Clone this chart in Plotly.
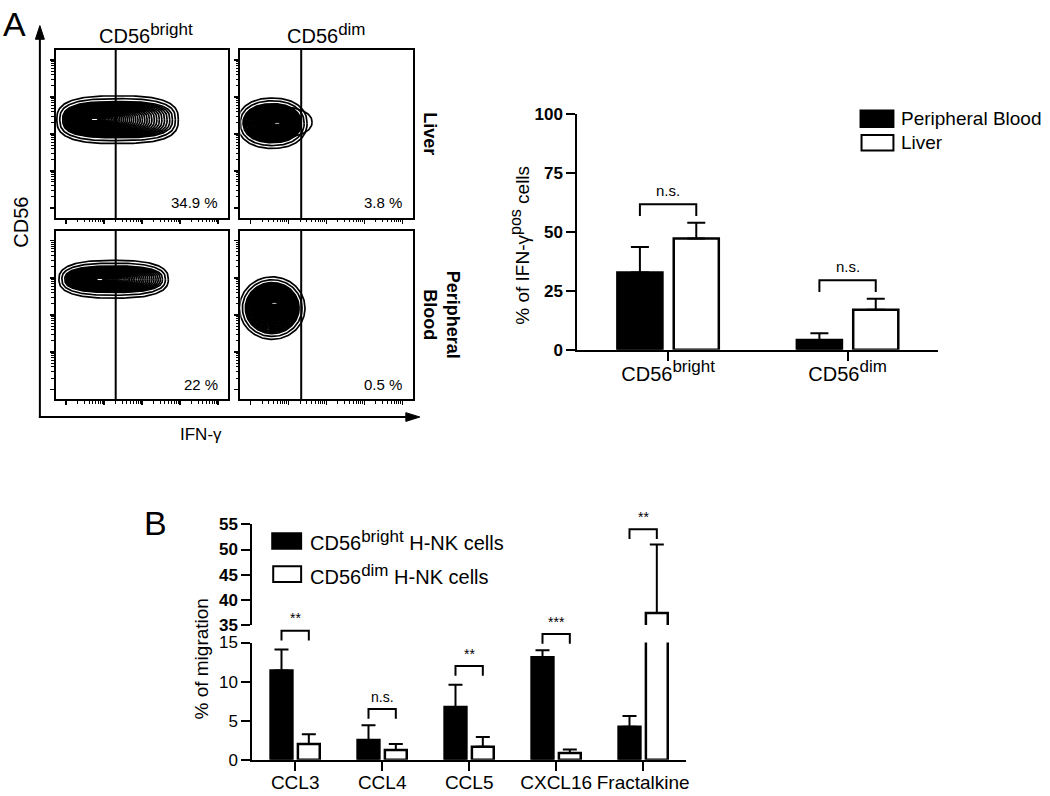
import numpy as np
import plotly.graph_objects as go

W, H = 1050, 796
FONT = "Liberation Sans, Arial, Helvetica, sans-serif"


def sup(base, s, px):
    return f'{base}<sup><span style="font-size:{px}px">{s}</span></sup>'


# ---------------- data ----------------
# Panel A, flow cytometry contour plots (order: TL, TR, BL, BR)
flow_col_titles = [("CD56", "bright"), ("CD56", "dim")]
flow_row_titles = ["Liver", "Peripheral<br>Blood"]
flow_pct = ["34.9 %", "3.8 %", "22 %", "0.5 %"]
flow_gate = [0.347, 0.353, 0.347, 0.353]
blob_cx = [0.358, 0.185, 0.335, 0.185]
blob_cy = [0.585, 0.564, 0.712, 0.541]
blob_rx = [0.318, 0.168, 0.283, 0.156]
blob_ry = [0.108, 0.116, 0.078, 0.151]
mode_cx = [0.225, 0.214, 0.254, 0.197]
mode_cy = [0.587, 0.564, 0.709, 0.570]
blob_n = [2.8, 2.2, 2.6, 2.0]
extra_ring = [None, (0.2165, 0.570, 0.1995, 0.093), None, None]

# Panel A, IFN-gamma bar chart
ifn_groups = [("CD56", "bright"), ("CD56", "dim")]
pb_mean = [32.8, 4.1]
pb_err = [10.8, 2.9]
liver_mean = [47.3, 17.0]
liver_err = [6.7, 4.6]
sigA_text = ["n.s.", "n.s."]
sigA_top = [61.8, 29.5]

# Panel B, migration bar chart
chemokines = ["CCL3", "CCL4", "CCL5", "CXCL16", "Fractalkine"]
bright_mean = [11.4, 2.5, 6.75, 13.1, 4.2]
bright_err = [2.7, 1.9, 2.85, 0.9, 1.4]
dim_mean = [2.0, 1.25, 1.65, 0.85, 37.4]
dim_err = [1.25, 0.75, 1.25, 0.45, 13.6]
sigB_text = ["**", "n.s.", "**", "***", "**"]
sigB_top = [16.5, 6.5, 12.0, 16.1, 29.5]   # in lower-segment units


def fx(px):
    return px / W


def fy(py):
    return 1 - py / H


def label(fig, px, py, text, size, xanchor="center", yanchor="middle", angle=0):
    fig.add_annotation(x=fx(px), y=fy(py), xref="paper", yref="paper", text=text,
                       showarrow=False, xanchor=xanchor, yanchor=yanchor,
                       textangle=angle, font=dict(size=size))


BARGAP, GROUPGAP = 0.372, 0.2
half_off = (1 - BARGAP) / 4.0   # centre offset of each bar in a 2-bar group

fig = go.Figure()
layout = {}
shapes = []

# ---------------- flow panels ----------------
flow_box = [(56, 229, 42, 214), (241, 414, 42, 214),
            (56, 229, 227, 400), (241, 414, 227, 400)]
decades = [0.06 + 0.22 * d for d in range(5)]
minor_t = [p + 0.22 * np.log10(m) for p in decades for m in range(2, 10)
           if p + 0.22 * np.log10(m) < 1]


def superellipse(cx, cy, rx, ry, n, m=160):
    t = np.linspace(0, 2 * np.pi, m)
    c, s = np.cos(t), np.sin(t)
    return (cx + rx * np.sign(c) * np.abs(c) ** (2 / n),
            cy + ry * np.sign(s) * np.abs(s) ** (2 / n))


for i, (l, r, t, b) in enumerate(flow_box):
    k = i + 1
    xa, ya = f"x{k}", f"y{k}"
    axcommon = dict(range=[0, 1], showline=True, mirror=True, linecolor="black",
                    linewidth=2, ticks="outside", tickvals=decades, ticklen=4,
                    tickwidth=1.5, tickcolor="black",
                    minor=dict(tickvals=minor_t, ticklen=2.5, tickwidth=1,
                               ticks="outside", tickcolor="black"),
                    showticklabels=False, showgrid=False, zeroline=False,
                    fixedrange=True)
    layout[f"xaxis{k}"] = dict(domain=[fx(l), fx(r)], anchor=ya, **axcommon)
    layout[f"yaxis{k}"] = dict(domain=[fy(b), fy(t)], anchor=xa, **axcommon)

    rings = []
    if extra_ring[i] is not None:
        rings.append(extra_ring[i] + (blob_n[i],))
    for h in (0.034, 0.017):   # loose outer contours
        rings.append((blob_cx[i], blob_cy[i], blob_rx[i] + h, blob_ry[i] + h,
                      blob_n[i]))
    N = 42
    for s in np.linspace(0, 1, N):
        tt = 1 - (1 - s) ** 1.5
        cx = blob_cx[i] + (mode_cx[i] - blob_cx[i]) * tt
        cy = blob_cy[i] + (mode_cy[i] - blob_cy[i]) * tt
        rx = blob_rx[i] + (0.022 - blob_rx[i]) * tt
        ry = blob_ry[i] + (0.010 - blob_ry[i]) * tt
        rings.append((cx, cy, rx, ry, blob_n[i]))
    xs, ys = [], []
    for (cx, cy, rx, ry, n) in rings:
        x, y = superellipse(cx, cy, rx, ry, n)
        xs += list(x) + [None]
        ys += list(y) + [None]
    fig.add_trace(go.Scatter(x=xs, y=ys, xaxis=xa, yaxis=ya, mode="lines",
                             line=dict(color="black", width=1.7),
                             showlegend=False, hoverinfo="skip"))
    fig.add_trace(go.Scatter(x=[flow_gate[i], flow_gate[i]], y=[0, 1], xaxis=xa,
                             yaxis=ya, mode="lines",
                             line=dict(color="black", width=2),
                             showlegend=False, hoverinfo="skip"))
    fig.add_annotation(x=0.95, y=0.09, xref=xa, yref=ya, text=flow_pct[i],
                       showarrow=False, xanchor="right", yanchor="middle",
                       font=dict(size=15))

for j, (base, s) in enumerate(flow_col_titles):
    label(fig, [146, 327][j], 25, sup(base, s, 17), 20)
label(fig, 431, 128, "<b>" + flow_row_titles[0] + "</b>", 18, angle=90)
label(fig, 443, 313, "<b>" + flow_row_titles[1] + "</b>", 18, angle=90)
label(fig, 21, 218, "CD56", 20, angle=-90)
label(fig, 202, 436, "IFN-γ", 17)
label(fig, 1, 15, "A", 34, xanchor="left")

# big L-shaped axes with arrowheads
line_k = dict(color="black", width=2)
shapes.append(dict(type="line", xref="paper", yref="paper", x0=fx(40), x1=fx(40),
                   y0=fy(419), y1=fy(28), line=line_k))
shapes.append(dict(type="line", xref="paper", yref="paper", x0=fx(39), x1=fx(410),
                   y0=fy(418), y1=fy(418), line=line_k))
shapes.append(dict(type="path", xref="paper", yref="paper",
                   path=(f"M {fx(40)},{fy(17)} L {fx(35.5)},{fy(31)} "
                         f"L {fx(44.5)},{fy(31)} Z"),
                   fillcolor="black", line=dict(color="black", width=1)))
shapes.append(dict(type="path", xref="paper", yref="paper",
                   path=(f"M {fx(421)},{fy(418)} L {fx(407)},{fy(413.5)} "
                         f"L {fx(407)},{fy(422.5)} Z"),
                   fillcolor="black", line=dict(color="black", width=1)))

# ---------------- panel A bar chart ----------------
idxA = list(range(len(ifn_groups)))
bar_line = dict(color="black", width=2.5)
fig.add_trace(go.Bar(x=idxA, y=pb_mean, xaxis="x5", yaxis="y5",
                     marker=dict(color="black", line=bar_line),
                     error_y=dict(type="data", symmetric=False, array=pb_err,
                                  arrayminus=[0] * len(pb_err), color="black",
                                  thickness=2, width=9),
                     showlegend=False))
fig.add_trace(go.Bar(x=idxA, y=liver_mean, xaxis="x5", yaxis="y5",
                     marker=dict(color="white", line=bar_line),
                     error_y=dict(type="data", symmetric=False, array=liver_err,
                                  arrayminus=[0] * len(liver_err), color="black",
                                  thickness=2, width=9),
                     showlegend=False))
for i, top in enumerate(sigA_top):
    x0, x1 = idxA[i] - half_off, idxA[i] + half_off
    fig.add_trace(go.Scatter(x=[x0, x0, x1, x1], y=[top - 5, top, top, top - 5],
                             xaxis="x5", yaxis="y5", mode="lines",
                             line=dict(color="black", width=2),
                             showlegend=False, hoverinfo="skip"))
    fig.add_annotation(x=idxA[i], y=top + 1.5, xref="x5", yref="y5",
                       text=sigA_text[i], showarrow=False, xanchor="center",
                       yanchor="bottom", font=dict(size=15))

layout["xaxis5"] = dict(domain=[fx(579), fx(941)], anchor="y5",
                        range=[(579 - 670) / 180, (941 - 670) / 180],
                        tickvals=idxA,
                        ticktext=[sup(b, s, 17) for b, s in ifn_groups],
                        ticks="outside", ticklen=9, tickwidth=2,
                        tickcolor="black", showline=True, linecolor="black",
                        linewidth=2, showgrid=False, zeroline=False,
                        tickangle=0, ticklabelstandoff=-4,
                        tickfont=dict(size=20))
layout["yaxis5"] = dict(domain=[fy(349), fy(108)], anchor="x5", range=[0, 100],
                        tickvals=[0, 25, 50, 75, 100], ticks="outside", ticklen=9,
                        tickwidth=2, tickcolor="black", showline=True,
                        linecolor="black", linewidth=2, showgrid=False,
                        zeroline=False, tickfont=dict(size=17, weight="bold"))
label(fig, 522, 242, "% of IFN-γ" + '<sup><span style="font-size:16px">pos</span></sup>'
      + " cells", 19, angle=-90)

# legend A
shapes.append(dict(type="rect", xref="paper", yref="paper", x0=fx(863), x1=fx(896),
                   y0=fy(121), y1=fy(104), fillcolor="black",
                   line=dict(color="black", width=2)))
shapes.append(dict(type="rect", xref="paper", yref="paper", x0=fx(864), x1=fx(896),
                   y0=fy(145), y1=fy(129), fillcolor="white",
                   line=dict(color="black", width=2)))
label(fig, 902, 112, "Peripheral Blood", 19, xanchor="left")
label(fig, 902, 137, "Liver", 19, xanchor="left")

# ---------------- panel B bar chart (broken axis) ----------------
idxB = list(range(len(chemokines)))
for ya in ["y6", "y7"]:
    fig.add_trace(go.Bar(x=idxB, y=bright_mean, xaxis="x6", yaxis=ya,
                         marker=dict(color="black", line=bar_line),
                         error_y=dict(type="data", symmetric=False,
                                      array=bright_err,
                                      arrayminus=[0] * len(bright_err),
                                      color="black", thickness=2, width=7),
                         showlegend=False))
    fig.add_trace(go.Bar(x=idxB, y=dim_mean, xaxis="x6", yaxis=ya,
                         marker=dict(color="white", line=bar_line),
                         error_y=dict(type="data", symmetric=False, array=dim_err,
                                      arrayminus=[0] * len(dim_err),
                                      color="black", thickness=2, width=7),
                         showlegend=False))
for i, top in enumerate(sigB_top):
    x0, x1 = idxB[i] - half_off, idxB[i] + half_off
    fig.add_trace(go.Scatter(x=[x0, x0, x1, x1],
                             y=[top - 1.25, top, top, top - 1.25],
                             xaxis="x6", yaxis="y8", mode="lines",
                             line=dict(color="black", width=2),
                             showlegend=False, hoverinfo="skip"))
    fig.add_annotation(x=idxB[i], y=top + 0.3, xref="x6", yref="y8",
                       text=sigB_text[i], showarrow=False, xanchor="center",
                       yanchor="bottom", font=dict(size=14))

axis_line = dict(showline=True, linecolor="black", linewidth=2, showgrid=False,
                 zeroline=False, ticks="outside", ticklen=9, tickwidth=2,
                 tickcolor="black")
layout["xaxis6"] = dict(domain=[fx(253), fx(688)], anchor="y6",
                        range=[(253 - 296) / 87.25, (688 - 296) / 87.25],
                        tickvals=idxB, ticktext=chemokines, tickangle=0,
                        ticklabelstandoff=-4,
                        tickfont=dict(size=19), **axis_line)
layout["yaxis6"] = dict(domain=[fy(769), fy(649)], anchor="x6", range=[0, 15],
                        tickvals=[0, 5, 10, 15], tickfont=dict(size=17),
                        **axis_line)
layout["yaxis7"] = dict(domain=[fy(631), fy(528)], anchor="x6", range=[35, 55],
                        tickvals=[35, 40, 45, 50, 55],
                        tickfont=dict(size=17, weight="bold"), **axis_line)
layout["yaxis8"] = dict(domain=[fy(769), fy(528)], anchor="x6",
                        range=[0, (769 - 528) / 8.0], visible=False)
label(fig, 202, 666, "% of migration", 19, angle=-90)
label(fig, 156, 527, "B", 34)

# legend B
shapes.append(dict(type="rect", xref="paper", yref="paper", x0=fx(273), x1=fx(302),
                   y0=fy(553), y1=fy(537), fillcolor="black",
                   line=dict(color="black", width=2)))
shapes.append(dict(type="rect", xref="paper", yref="paper", x0=fx(274), x1=fx(302),
                   y0=fy(587), y1=fy(571), fillcolor="white",
                   line=dict(color="black", width=2)))
label(fig, 309, 545, sup("CD56", "bright", 17) + " H-NK cells", 20, xanchor="left")
label(fig, 309, 579, sup("CD56", "dim", 17) + " H-NK cells", 20, xanchor="left")

fig.update_layout(width=W, height=H, margin=dict(l=0, r=0, t=0, b=0),
                  paper_bgcolor="white", plot_bgcolor="rgba(0,0,0,0)",
                  barmode="group", bargap=BARGAP, bargroupgap=GROUPGAP,
                  font=dict(family=FONT, color="black"), shapes=shapes,
                  showlegend=False, hovermode=False, **layout)
fig.write_html("out.html", config={"displayModeBar": False, "staticPlot": True},
               post_script="document.body.style.margin='0px';"
                           "document.body.style.overflow='hidden';")
